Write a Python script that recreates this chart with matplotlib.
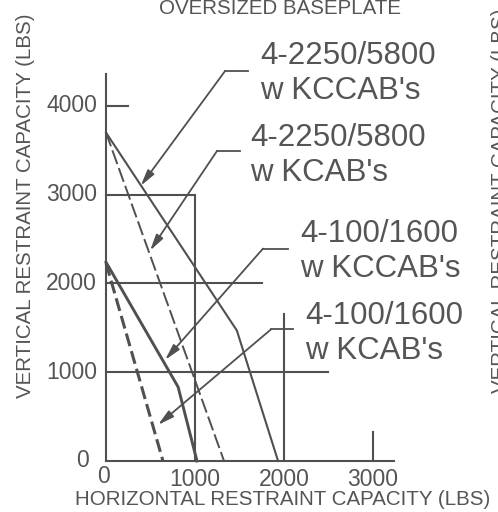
import matplotlib.pyplot as plt

# curves (lbs)
kccab_2250_x = [0, 1470, 1933]
kccab_2250_y = [3700, 1470, 0]
kcab_2250_x = [0, 1326]
kcab_2250_y = [3700, 0]
kccab_100_x = [0, 810, 1022]
kccab_100_y = [2240, 834, 0]
kcab_100_x = [0, 640]
kcab_100_y = [2230, 0]

x_ticks = [0, 1000, 2000, 3000]
y_ticks = [0, 1000, 2000, 3000, 4000]

labels = ["4-2250/5800\nw KCCAB's", "4-2250/5800\nw KCAB's",
          "4-100/1600\nw KCCAB's", "4-100/1600\nw KCAB's"]
# arrow tips on the curves
tips = [(390, 3100), (495, 2370), (663, 1138), (584, 406)]

col = '#505050'
tcol = '#555555'
plt.rcParams['font.family'] = ['Liberation Sans', 'DejaVu Sans']

fig = plt.figure(figsize=(4.98, 5.12), dpi=100)
ax = fig.add_axes([0, 0, 1, 1])
ax.set_xlim(-1191, 4404)
ax.set_ylim(-575, 5194)
ax.set_axis_off()

# axes and grid lines of the drawing
ax.plot([0, 3236], [0, 0], color=col, lw=1.5)
ax.plot([0, 0], [0, 4360], color=col, lw=1.5)
ax.plot([0, 250], [4000, 4000], color=col, lw=1.5)
ax.plot([0, 1000], [3000, 3000], color=col, lw=1.5)
ax.plot([0, 1750], [2000, 2000], color=col, lw=1.5)
ax.plot([0, 2490], [1000, 1000], color=col, lw=1.5)
ax.plot([1000, 1000], [0, 3000], color=col, lw=1.5)
ax.plot([2000, 2000], [0, 1660], color=col, lw=1.5)
ax.plot([3000, 3000], [0, 325], color=col, lw=1.5)

# curves
ax.plot(kccab_2250_x, kccab_2250_y, color=col, lw=1.5)
ax.plot(kcab_2250_x, kcab_2250_y, color=col, lw=1.4, dashes=(7.5, 2.2))
ax.plot(kccab_100_x, kccab_100_y, color=col, lw=2.1)
ax.plot(kcab_100_x, kcab_100_y, color=col, lw=2.2, dashes=(4.3, 1.7))

# tick labels
for v in y_ticks:
    off = 90 if v == 0 else 0
    ax.text(-100 - off, v, str(v), ha='right', va='center', fontsize=16.5, color=tcol)
for v in x_ticks:
    yy = -170 if v == 0 else -214
    ax.text(v - 30 if v == 0 else v, yy, str(v), ha='center', va='center', fontsize=16.5, color=tcol)

ax.text(1955, 5098, 'OVERSIZED BASEPLATE', ha='center', va='center', fontsize=14.8, color=tcol)
ax.text(1989, -439, 'HORIZONTAL RESTRAINT CAPACITY (LBS)', ha='center', va='center',
        fontsize=14.8, color=tcol)
ax.text(-910, 2873, 'VERTICAL RESTRAINT CAPACITY (LBS)', ha='center', va='center',
        rotation=90, fontsize=14.8, color=tcol)
# cut-off label of the next panel
ax.text(4430, 2930, 'VERTICAL RESTRAINT CAPACITY (LBS)', ha='center', va='center',
        rotation=90, fontsize=14.8, color=tcol)

# leaders: elbow, landing end, text position
elbows = [(1337, 4393), (1247, 3493), (1764, 2393), (1854, 1483)]
ends = [(1595, 4393), (1506, 3493), (2045, 2393), (2100, 1483)]
text_pos = [(1730, 4370), (1618, 3445), (2180, 2364), (2236, 1440)]

for lab, tip, el, en, tp in zip(labels, tips, elbows, ends, text_pos):
    ax.plot([el[0], en[0]], [el[1], en[1]], color=col, lw=1.3)
    ax.annotate('', xy=tip, xytext=el,
                arrowprops=dict(arrowstyle='-|>,head_length=0.8,head_width=0.2',
                                color=col, lw=1.3, shrinkA=0, shrinkB=0,
                                mutation_scale=12))
    ax.text(tp[0], tp[1], lab, ha='left', va='center', fontsize=22.5, color=tcol,
            linespacing=1.22)

fig.savefig('out.png', dpi=100)
